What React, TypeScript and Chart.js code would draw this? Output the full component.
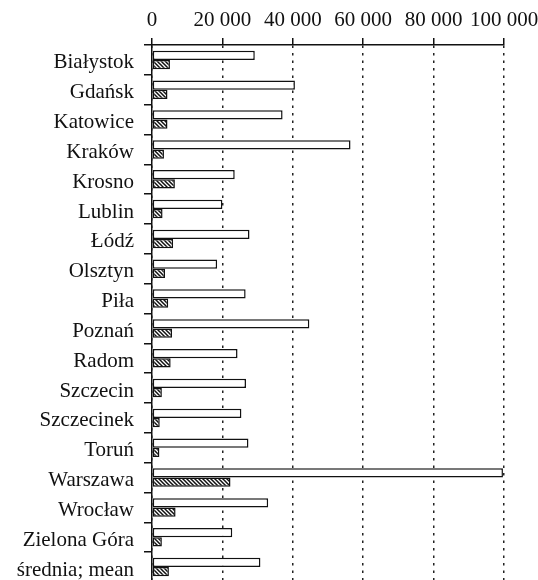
import React, { useEffect, useRef } from 'react';
import { Chart, registerables } from 'chart.js';

Chart.register(...registerables);

const categories = [
  'Białystok', 'Gdańsk', 'Katowice', 'Kraków', 'Krosno', 'Lublin', 'Łódź', 'Olsztyn', 'Piła',
  'Poznań', 'Radom', 'Szczecin', 'Szczecinek', 'Toruń', 'Warszawa', 'Wrocław', 'Zielona Góra',
  'średnia; mean',
];
const seriesA = [
  29200, 40600, 37100, 56400, 23500, 20000, 27700, 18500, 26600,
  44700, 24300, 26700, 25400, 27400, 99700, 33000, 22800, 30800,
];
const seriesB = [
  5100, 4400, 4400, 3400, 6500, 3000, 6000, 3700, 4600,
  5700, 5300, 2800, 2200, 2100, 22300, 6700, 2800, 4800,
];
const xTicks = [0, 20000, 40000, 60000, 80000, 100000];

const FONT = '"Liberation Serif", "Times New Roman", serif';
const INK = '#111';

function fmt(v: number): string {
  return String(v).replace(/\B(?=(\d{3})+(?!\d))/g, ' ');
}

export default function App() {
  const ref = useRef<HTMLCanvasElement>(null);
  useEffect(() => {
    const canvas = ref.current!;
    const pc = document.createElement('canvas');
    pc.width = 4;
    pc.height = 4;
    const p = pc.getContext('2d')!;
    p.fillStyle = '#fff';
    p.fillRect(0, 0, 4, 4);
    p.strokeStyle = INK;
    p.lineWidth = 1.5;
    p.beginPath();
    p.moveTo(-1, -1); p.lineTo(5, 5);
    p.moveTo(-1, 3); p.lineTo(1, 5);
    p.moveTo(3, -1); p.lineTo(5, 1);
    p.stroke();
    const pattern = canvas.getContext('2d')!.createPattern(pc, 'repeat')!;

    const chart = new Chart(canvas, {
      type: 'bar',
      data: {
        labels: categories,
        datasets: [
          { data: seriesA, backgroundColor: '#fff', borderColor: INK, borderWidth: 1.5, borderSkipped: false },
          { data: seriesB, backgroundColor: pattern as any, borderColor: INK, borderWidth: 1.5, borderSkipped: false },
        ],
      },
      options: {
        indexAxis: 'y',
        responsive: false,
        animation: false,
        layout: { padding: { left: 0, top: 0, right: 34, bottom: 0 } },
        plugins: { legend: { display: false }, tooltip: { enabled: false } },
        datasets: { bar: { categoryPercentage: 0.62, barPercentage: 1 } },
        scales: {
          x: {
            position: 'top',
            min: 0,
            max: 100000,
            afterFit: (s: any) => { s.height = 45; s.paddingLeft = 0; s.paddingRight = 0; },
            afterBuildTicks: (s: any) => { s.ticks = xTicks.map((v) => ({ value: v })); },
            ticks: {
              callback: (v: any) => fmt(Number(v)),
              font: { family: FONT, size: 21 },
              color: INK,
              padding: 5,
              maxRotation: 0,
              autoSkip: false,
            },
            grid: {
              color: '#222',
              lineWidth: 1.5,
              tickLength: 7,
              tickColor: INK,
              tickWidth: 1.5,
              tickBorderDash: [],
            },
            border: { display: true, color: INK, width: 1.5, dash: [2.5, 5] },
          },
          y: {
            afterFit: (s: any) => { s.width = 152; s.paddingTop = 0; s.paddingBottom = 0; },
            ticks: { font: { family: FONT, size: 21 }, color: INK, padding: 10, labelOffset: 3, autoSkip: false },
            grid: { offset: true, drawOnChartArea: false, tickLength: 8, color: INK, lineWidth: 1.5 },
            border: { display: true, color: INK, width: 1.5 },
          },
        },
      },
    });
    return () => chart.destroy();
  }, []);

  return (
    <div style={{ position: 'fixed', left: 0, top: 0, width: 538, height: 580, overflow: 'hidden', background: '#fff' }}>
      <canvas ref={ref} width={538} height={582} style={{ display: 'block' }} />
    </div>
  );
}
